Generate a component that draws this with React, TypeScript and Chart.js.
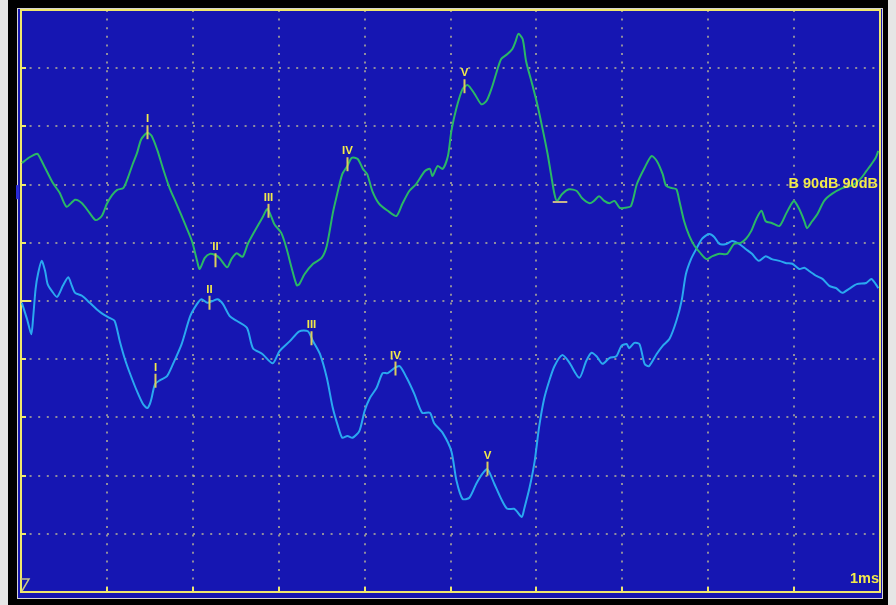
import React, { useEffect, useRef } from "react";
import { Chart, registerables } from "chart.js";

Chart.register(...registerables);

// Time base in ms (10 divisions, 1 ms each); amplitude in screen divisions.
const timeRange = [0, 10];
const ampRange = [-5, 5];

// Upper (green) trace
const greenTime = [
  0.01, 0.1, 0.19, 0.21, 0.28, 0.37, 0.45, 0.53, 0.63, 0.71,
  0.8, 0.87, 0.94, 1.0, 1.06, 1.12, 1.19, 1.24, 1.3, 1.35,
  1.4, 1.47, 1.52, 1.59, 1.65, 1.73, 1.81, 1.91, 1.99, 2.05,
  2.08, 2.14, 2.2, 2.26, 2.31, 2.4, 2.45, 2.51, 2.58, 2.64,
  2.72, 2.81, 2.87, 2.95, 3.03, 3.09, 3.15, 3.21, 3.24, 3.3,
  3.4, 3.5, 3.56, 3.63, 3.67, 3.74, 3.8, 3.85, 3.92, 3.98,
  4.03, 4.09, 4.17, 4.27, 4.37, 4.44, 4.52, 4.6, 4.7, 4.76,
  4.79, 4.85, 4.91, 4.97, 5.01, 5.07, 5.14, 5.2, 5.28, 5.36,
  5.42, 5.48, 5.53, 5.59, 5.66, 5.72, 5.76, 5.79, 5.84, 5.88,
  5.95, 6.01, 6.07, 6.13, 6.17, 6.21, 6.24, 6.3, 6.38, 6.47,
  6.53, 6.62, 6.67, 6.73, 6.79, 6.85, 6.91, 6.97, 7.02, 7.1,
  7.17, 7.26, 7.34, 7.4, 7.47, 7.51, 7.58, 7.63, 7.66, 7.72,
  7.78, 7.84, 7.9, 7.98, 8.05, 8.13, 8.22, 8.3, 8.38, 8.44,
  8.5, 8.56, 8.62, 8.67, 8.74, 8.83, 8.91, 8.97, 9.0, 9.06,
  9.12, 9.15, 9.21, 9.27, 9.35, 9.44, 9.56, 9.66, 9.72, 9.78,
  9.84, 9.9, 9.95, 9.98,
];
const greenAmp = [
  2.37, 2.47, 2.53, 2.49, 2.29, 2.03, 1.86, 1.62, 1.74, 1.68,
  1.51, 1.39, 1.46, 1.67, 1.82, 1.91, 1.94, 2.1, 2.35, 2.54,
  2.78, 2.89, 2.84, 2.58, 2.29, 1.94, 1.67, 1.32, 1.03, 0.69,
  0.55, 0.74, 0.81, 0.79, 0.74, 0.58, 0.72, 0.82, 0.76, 0.98,
  1.2, 1.43, 1.58, 1.32, 1.17, 0.91, 0.57, 0.27, 0.29, 0.46,
  0.64, 0.74, 0.95, 1.51, 1.77, 2.18, 2.32, 2.46, 2.44, 2.27,
  2.18, 1.89, 1.67, 1.55, 1.46, 1.67, 1.89, 2.01, 2.23, 2.27,
  2.15, 2.32, 2.27, 2.49, 2.92, 3.32, 3.64, 3.71, 3.56, 3.38,
  3.44, 3.66, 3.9, 4.16, 4.24, 4.33, 4.47, 4.59, 4.5, 4.12,
  3.73, 3.38, 2.97, 2.53, 2.18, 1.84, 1.72, 1.84, 1.92, 1.89,
  1.77, 1.68, 1.72, 1.8, 1.72, 1.68, 1.72, 1.6, 1.6, 1.63,
  2.01, 2.29, 2.49, 2.41, 2.18, 1.98, 1.94, 1.92, 1.75, 1.37,
  1.12, 0.95, 0.84, 0.72, 0.77, 0.81, 0.81, 0.98, 1.0, 1.07,
  1.2, 1.41, 1.55, 1.37, 1.34, 1.29, 1.51, 1.67, 1.72, 1.58,
  1.37, 1.25, 1.37, 1.49, 1.72, 1.84, 1.94, 1.98, 2.03, 2.11,
  2.23, 2.35, 2.46, 2.58,
];

// Lower (blue) trace
const blueTime = [
  0.01, 0.07, 0.12, 0.14, 0.17, 0.2, 0.24, 0.28, 0.31, 0.36,
  0.42, 0.49, 0.55, 0.59, 0.63, 0.71, 0.8, 0.88, 0.95, 1.03,
  1.09, 1.15, 1.21, 1.27, 1.35, 1.42, 1.47, 1.5, 1.52, 1.56,
  1.62, 1.7, 1.77, 1.87, 1.97, 2.05, 2.1, 2.17, 2.23, 2.29,
  2.35, 2.43, 2.51, 2.63, 2.7, 2.81, 2.93, 3.01, 3.13, 3.24,
  3.34, 3.4, 3.48, 3.56, 3.63, 3.69, 3.74, 3.8, 3.86, 3.94,
  4.0, 4.06, 4.14, 4.21, 4.27, 4.35, 4.41, 4.49, 4.58, 4.67,
  4.76, 4.81, 4.91, 5.01, 5.07, 5.14, 5.22, 5.3, 5.37, 5.43,
  5.51, 5.59, 5.66, 5.74, 5.77, 5.83, 5.86, 5.92, 5.98, 6.03,
  6.09, 6.15, 6.21, 6.3, 6.38, 6.5, 6.58, 6.64, 6.7, 6.77,
  6.85, 6.93, 6.99, 7.05, 7.08, 7.14, 7.2, 7.26, 7.31, 7.4,
  7.47, 7.55, 7.63, 7.69, 7.74, 7.8, 7.86, 7.93, 8.01, 8.07,
  8.13, 8.21, 8.28, 8.36, 8.44, 8.51, 8.59, 8.67, 8.74, 8.83,
  8.91, 8.98, 9.06, 9.12, 9.17, 9.26, 9.33, 9.41, 9.49, 9.56,
  9.64, 9.73, 9.84, 9.9, 9.95, 9.98,
];
const blueAmp = [
  -0.03, -0.31, -0.57, -0.31, 0.21, 0.48, 0.69, 0.52, 0.29, 0.17,
  0.07, 0.27, 0.41, 0.27, 0.14, 0.09, -0.03, -0.14, -0.22, -0.29,
  -0.34, -0.69, -1.0, -1.25, -1.55, -1.77, -1.84, -1.77, -1.67, -1.43,
  -1.36, -1.29, -1.08, -0.74, -0.26, -0.05, 0.03, -0.03, 0.0, 0.03,
  -0.05, -0.26, -0.34, -0.46, -0.81, -0.91, -1.07, -0.86, -0.69, -0.52,
  -0.52, -0.69, -0.91, -1.32, -1.84, -2.15, -2.35, -2.32, -2.35, -2.23,
  -1.89, -1.67, -1.49, -1.24, -1.24, -1.15, -1.12, -1.32, -1.6, -1.92,
  -1.92, -2.1, -2.27, -2.58, -3.09, -3.4, -3.38, -3.14, -2.97, -2.89,
  -3.14, -3.4, -3.57, -3.57, -3.61, -3.71, -3.56, -3.21, -2.75, -2.18,
  -1.68, -1.37, -1.12, -0.93, -1.05, -1.32, -1.03, -0.89, -0.95, -1.08,
  -0.98, -0.95, -0.77, -0.74, -0.81, -0.72, -0.74, -1.08, -1.12, -0.91,
  -0.77, -0.65, -0.34, 0.0, 0.46, 0.72, 0.89, 1.07, 1.15, 1.1,
  0.98, 0.98, 1.03, 0.98, 0.89, 0.81, 0.69, 0.77, 0.72, 0.69,
  0.65, 0.64, 0.55, 0.57, 0.52, 0.43, 0.38, 0.26, 0.22, 0.14,
  0.21, 0.29, 0.31, 0.38, 0.29, 0.22,
];

// Wave peak cursors
const waveLabels = ["I", "II", "III", "IV", "V"];
const greenPeakTime = [1.47, 2.26, 2.87, 3.79, 5.16];
const greenPeakAmp = [2.9, 0.7, 1.55, 2.35, 3.69];
const bluePeakTime = [1.56, 2.19, 3.38, 4.35, 5.43];
const bluePeakAmp = [-1.37, -0.03, -0.64, -1.16, -2.88];

// Baseline cursor after wave V on the upper trace: [start ms, end ms], amplitude
const greenBaseTime = [6.19, 6.36];
const greenBaseAmp = 1.7;
// Channel reference level shown on the left margin
const greenRefAmp = 1.87;

const channelText = "B 90dB 90dB";
const timebaseText = "1ms";

const SCREEN_BLUE = "#1616b2";
const FRAME_YELLOW = "#f0e86c";
const DOT_COLOR = "rgba(185,182,150,0.75)";
const GREEN = "#2ab866";
const CYAN = "#2aa8f0";
const TEXT_YELLOW = "#f2ea4a";
const CURSOR_YELLOW = "#dccc5c";
const FONT = "'Liberation Sans', Arial, sans-serif";

const scopePlugin = {
  id: "scope",
  beforeDraw(chart: any) {
    const { ctx, width, height, chartArea: a } = chart;
    ctx.save();
    ctx.fillStyle = "#e6e6e6";
    ctx.fillRect(0, 0, width, height);
    ctx.fillStyle = "#000";
    ctx.fillRect(8, 0, width - 16, height);
    ctx.fillStyle = SCREEN_BLUE;
    ctx.fillRect(a.left - 3, a.top - 1, a.right - a.left + 5, a.bottom - a.top + 7);
    ctx.strokeStyle = "#d4d4d4";
    ctx.lineWidth = 1;
    ctx.strokeRect(a.left - 3.5, a.top - 1.5, a.right - a.left + 6, a.bottom - a.top + 8);
    ctx.restore();
  },
  beforeDatasetsDraw(chart: any) {
    const { ctx, chartArea: a, scales } = chart;
    const xs = scales.x;
    const ys = scales.y;
    ctx.save();
    ctx.strokeStyle = FRAME_YELLOW;
    ctx.lineWidth = 2;
    ctx.strokeRect(a.left, a.top, a.right - a.left, a.bottom - a.top);
    ctx.beginPath();
    ys.ticks.forEach((t: any) => {
      const y = Math.round(ys.getPixelForValue(t.value));
      const len = t.value === 0 ? 10 : 5;
      ctx.moveTo(a.left, y);
      ctx.lineTo(a.left + len, y);
    });
    xs.ticks.forEach((t: any) => {
      const x = Math.round(xs.getPixelForValue(t.value));
      ctx.moveTo(x, a.bottom);
      ctx.lineTo(x, a.bottom - 5);
    });
    ctx.stroke();

    // trigger mark in the lower-left corner
    ctx.strokeStyle = "#c8c488";
    ctx.lineWidth = 1.5;
    ctx.beginPath();
    ctx.moveTo(a.left, a.bottom - 13);
    ctx.lineTo(a.left + 8, a.bottom - 13);
    ctx.lineTo(a.left + 1, a.bottom - 1);
    ctx.stroke();

    // channel reference marker on the left margin
    ctx.fillStyle = "#2a2ad4";
    const ry = ys.getPixelForValue(greenRefAmp);
    ctx.fillRect(a.left - 5, ry - 7, 3, 14);
    ctx.restore();
  },
  afterDatasetsDraw(chart: any) {
    const { ctx, chartArea: a, scales } = chart;
    const xs = scales.x;
    const ys = scales.y;
    ctx.save();

    const drawCursors = (times: number[], amps: number[]) => {
      times.forEach((t, i) => {
        const x = Math.round(xs.getPixelForValue(t)) + 0.5;
        const y = ys.getPixelForValue(amps[i]);
        ctx.strokeStyle = CURSOR_YELLOW;
        ctx.lineWidth = 2;
        ctx.beginPath();
        ctx.moveTo(x, y - 7);
        ctx.lineTo(x, y + 7);
        ctx.stroke();
        ctx.fillStyle = TEXT_YELLOW;
        ctx.font = `bold 11.5px ${FONT}`;
        ctx.textAlign = "center";
        ctx.textBaseline = "alphabetic";
        ctx.fillText(waveLabels[i], x, y - 10);
      });
    };
    drawCursors(greenPeakTime, greenPeakAmp);
    drawCursors(bluePeakTime, bluePeakAmp);

    // baseline cursor
    ctx.strokeStyle = "#c8b48a";
    ctx.lineWidth = 2;
    ctx.beginPath();
    const by = Math.round(ys.getPixelForValue(greenBaseAmp));
    ctx.moveTo(xs.getPixelForValue(greenBaseTime[0]), by);
    ctx.lineTo(xs.getPixelForValue(greenBaseTime[1]), by);
    ctx.stroke();

    // channel and timebase annotations
    ctx.fillStyle = TEXT_YELLOW;
    ctx.font = `bold 14.5px ${FONT}`;
    ctx.textAlign = "right";
    ctx.textBaseline = "alphabetic";
    ctx.fillText(channelText, a.right - 2, a.top + 178);
    ctx.fillText(timebaseText, a.right - 1, a.bottom - 9);
    ctx.restore();
  },
};

export default function App() {
  const canvasRef = useRef<HTMLCanvasElement | null>(null);

  useEffect(() => {
    const canvas = canvasRef.current;
    if (!canvas) return;
    const greenData = greenTime.map((t, i) => ({ x: t, y: greenAmp[i] }));
    const blueData = blueTime.map((t, i) => ({ x: t, y: blueAmp[i] }));

    const gridAxis = (min: number, max: number) => ({
      type: "linear" as const,
      min,
      max,
      ticks: { display: false, stepSize: 1 },
      grid: { color: DOT_COLOR, lineWidth: 2, drawTicks: false },
      border: { display: false, dash: [2, 6.6] },
    });

    const chart = new Chart(canvas, {
      type: "line",
      data: {
        datasets: [
          {
            label: "upper",
            data: greenData,
            borderColor: GREEN,
            borderWidth: 2,
            pointRadius: 0,
            tension: 0.25,
          },
          {
            label: "lower",
            data: blueData,
            borderColor: CYAN,
            borderWidth: 2,
            pointRadius: 0,
            tension: 0.25,
          },
        ],
      },
      options: {
        animation: false,
        responsive: false,
        events: [],
        layout: {
          autoPadding: false,
          padding: { left: 21, top: 10, right: 16, bottom: 13 },
        },
        plugins: {
          legend: { display: false },
          tooltip: { enabled: false },
        },
        scales: {
          x: gridAxis(timeRange[0], timeRange[1]),
          y: gridAxis(ampRange[0], ampRange[1]),
        },
      },
      plugins: [scopePlugin],
    });
    return () => chart.destroy();
  }, []);

  return (
    <div style={{ position: "fixed", left: 0, top: 0, width: 896, height: 605 }}>
      <canvas ref={canvasRef} width={896} height={605} style={{ display: "block" }} />
    </div>
  );
}
